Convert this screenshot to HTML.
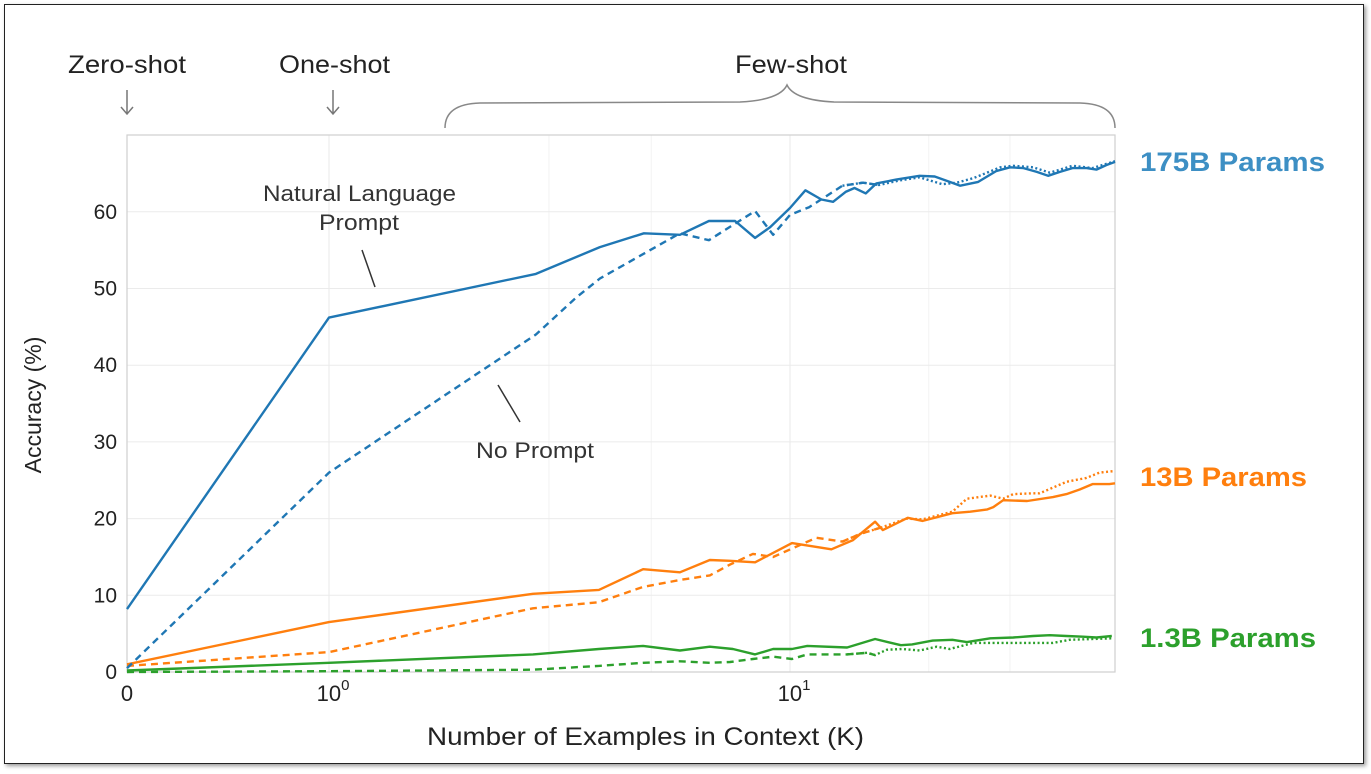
<!DOCTYPE html>
<html><head><meta charset="utf-8"><style>
body{margin:0;background:#fff;width:1371px;height:774px;overflow:hidden;font-family:"Liberation Sans",sans-serif}
#frame{position:absolute;left:4px;top:4px;width:1358px;height:758px;border:1.5px solid #222;box-shadow:2px 2px 4px rgba(0,0,0,.4)}
</style></head><body>
<div id="frame"></div>
<svg id="c" width="1371" height="774" style="position:absolute;left:0;top:0"></svg>
<script>
const blueSolidK=[0,1,2.81,3.87,4.82,5.77,6.67,7.60,8.40,9.06,10.0,10.8,11.7,12.4,13.2,13.8,14.6,15.4,17.0,19.1,20.6,22.2,23.4,25.6,28.0,30.0,32.1,34.3,36.3,38.5,41.0,44.0,46.2,48.6,50.7];
const blueSolidV=[8.2,46.2,51.9,55.4,57.2,57.0,58.8,58.8,56.6,58,60.5,62.8,61.6,61.3,62.6,63.1,62.4,63.7,64.2,64.7,64.6,63.9,63.4,63.9,65.3,65.8,65.7,65.2,64.7,65.2,65.7,65.7,65.5,66.1,66.5];
const blueNoK=[0,1,2.81,3.45,3.87,5.77,6.67,8.40,9.19,10.0,11.0,13.0,14.4,15.6,17.3,19.1,21.4,23.0,25.0,28.6,30.5,33.7,36.6,41.0,45.3,50.7];
const blueNoV=[0.5,26,44,48.9,51.3,57.2,56.3,60.1,57,59.6,60.6,63.4,63.8,63.5,64.1,64.5,63.6,63.8,64.4,65.8,66.0,65.8,65.1,66.0,65.7,66.6];
const orangeSolidK=[0,1,2.77,3.85,4.80,5.77,6.70,7.41,8.40,10.1,12.3,13.7,15.3,15.9,18.0,19.4,22.5,24.6,26.8,27.6,29.0,32.7,37.2,39.8,42.5,45.3,49.3,50.7];
const orangeSolidV=[1.0,6.5,10.2,10.7,13.4,13.0,14.6,14.5,14.3,16.8,16.0,17.2,19.6,18.5,20.1,19.7,20.7,20.9,21.2,21.5,22.4,22.3,22.8,23.2,23.8,24.5,24.5,24.6];
const orangeNoK=[0,1,2.77,3.85,4.80,5.77,6.70,7.41,8.31,9.19,11.4,13.0,14.2,15.9,17.9,19.4,22.5,24.2,27.2,29.0,30.5,33.7,34.8,39.8,44.0,46.9,50.7];
const orangeNoV=[0.8,2.6,8.3,9.1,11.1,12.0,12.6,14,15.4,15,17.5,17,18,18.9,20,19.9,20.9,22.6,23,22.6,23.2,23.3,23.3,24.8,25.3,26,26.2];
const greenSolidK=[0,1,2.77,3.85,4.80,5.77,6.70,7.52,8.40,9.19,10.1,10.9,13.3,14.0,15.3,17.4,18.4,20.4,22.5,24.2,27.2,30.5,33.7,36.6,39.8,43.2,46.2,49.9];
const greenSolidV=[0.2,1.2,2.3,3.0,3.4,2.8,3.3,3.0,2.3,3.0,3.0,3.4,3.2,3.6,4.3,3.5,3.6,4.1,4.2,3.9,4.4,4.5,4.7,4.8,4.7,4.6,4.5,4.7];
const greenNoK=[0,1,2.77,3.85,4.80,5.77,6.70,7.41,8.31,9.19,10.1,10.9,13.3,14.7,15.3,16.2,17.5,19.1,20.8,22.2,25.0,29.0,37.2,40.4,50.1];
const greenNoV=[0,0.1,0.3,0.8,1.2,1.4,1.2,1.3,1.7,2.0,1.7,2.3,2.3,2.5,2.2,2.9,3.0,2.8,3.3,3.0,3.8,3.8,3.8,4.2,4.4];
const yTicks=[0,10,20,30,40,50,60];
const dottedFrom=16;

const NS="http://www.w3.org/2000/svg",svg=document.getElementById('c');
const X0=127,X1=329,DEC=461,XR=1115,YB=672,YT=135,PPU=7.67;
function xs(k){return k<=1?X0+(X1-X0)*k:X1+DEC*Math.log10(k);}
function ys(v){return YB-v*PPU;}
function mk(t,a,p){const e=document.createElementNS(NS,t);for(const k in a)e.setAttribute(k,a[k]);(p||svg).appendChild(e);return e;}
[3,5,20,30].forEach(k=>{const g=mk('line',{x1:xs(k),x2:xs(k),y1:YT,y2:YB,stroke:'#f2f2f2','stroke-width':1});

});
[1,10].forEach(k=>{const g=mk('line',{x1:xs(k),x2:xs(k),y1:YT,y2:YB,stroke:'#e8e8e8','stroke-width':1});

});
yTicks.forEach(v=>{const g=mk('line',{x1:X0,x2:XR,y1:ys(v),y2:ys(v),stroke:'#ebebeb','stroke-width':1});


const t=mk('text',{x:X0-10,y:ys(v)+7,'text-anchor':'end','font-size':21,fill:'#222'});t.textContent=v;

});
const box=mk('rect',{x:X0,y:YT,width:XR-X0,height:YB-YT,fill:'none',stroke:'#cfcfcf','stroke-width':1.2});


function xt(x,html,name){const t=mk('text',{x:x,y:701,'text-anchor':'middle','font-size':22,fill:'#222'});t.innerHTML=html;

}
xt(xs(0),'0','x-tick-0');
xt(xs(1)+4,'10<tspan font-size="15" dy="-11">0</tspan>','x-tick-10e0');
xt(xs(10)+4,'10<tspan font-size="15" dy="-11">1</tspan>','x-tick-10e1');
function series(K,V,color,dash,name,split){
  let pts1=[],pts2=[];
  K.forEach((k,i)=>{const p=xs(k).toFixed(1)+','+ys(V[i]).toFixed(1);
    if(!split||k<=split)pts1.push(p);
    if(split&&k>=split-3)pts2.push(p);});
  const l=mk('polyline',{points:pts1.join(' '),fill:'none',stroke:color,'stroke-width':2.4,'stroke-dasharray':dash||'none','stroke-linejoin':'round'});
  
  
  if(split){const l2=mk('polyline',{points:pts2.join(' '),fill:'none',stroke:color,'stroke-width':2.4,'stroke-dasharray':'2 2.5'});
  
  }
}
series(greenNoK,greenNoV,'#2ca02c','7 5','line-1-3b-no-prompt',dottedFrom);
series(greenSolidK,greenSolidV,'#2ca02c',null,'line-1-3b-natural-language');
series(orangeNoK,orangeNoV,'#ff7f0e','7 5','line-13b-no-prompt',dottedFrom);
series(orangeSolidK,orangeSolidV,'#ff7f0e',null,'line-13b-natural-language');
series(blueNoK,blueNoV,'#1f77b4','7 5','line-175b-no-prompt',dottedFrom);
series(blueSolidK,blueSolidV,'#1f77b4',null,'line-175b-natural-language');
</script>
<svg width="1371" height="774" style="position:absolute;left:0;top:0">
<g font-family="Liberation Sans, sans-serif" fill="#222">
<text x="68" y="73" font-size="25" textLength="118" lengthAdjust="spacingAndGlyphs">Zero-shot</text>
<text x="279" y="73" font-size="25" textLength="111" lengthAdjust="spacingAndGlyphs">One-shot</text>
<text x="735" y="73" font-size="25" textLength="112" lengthAdjust="spacingAndGlyphs">Few-shot</text>
<text x="263" y="201" font-size="22" fill="#333" textLength="193" lengthAdjust="spacingAndGlyphs">Natural Language</text>
<text x="319" y="230" font-size="22" fill="#333" textLength="80" lengthAdjust="spacingAndGlyphs">Prompt</text>
<text x="476" y="458" font-size="22" fill="#333" textLength="118" lengthAdjust="spacingAndGlyphs">No Prompt</text>
<text x="427" y="745" font-size="25" textLength="437" lengthAdjust="spacingAndGlyphs">Number of Examples in Context  (K)</text>
<text transform="translate(41,405) rotate(-90)" font-size="23" text-anchor="middle">Accuracy (%)</text>
<text x="1140" y="171" font-size="27" font-weight="bold" fill="#3d8fc4" textLength="185" lengthAdjust="spacingAndGlyphs">175B Params</text>
<text x="1140" y="486" font-size="27" font-weight="bold" fill="#ff7f0e" textLength="167" lengthAdjust="spacingAndGlyphs">13B Params</text>
<text x="1140" y="647" font-size="27" font-weight="bold" fill="#2ca02c" textLength="176" lengthAdjust="spacingAndGlyphs">1.3B Params</text>
</g>
<g stroke="#777" stroke-width="1.5" fill="none">
<path d="M127 90 V114 M121 107 L127 114 L133 107"/>
<path d="M333 90 V114 M327 107 L333 114 L339 107"/>
<path d="M445 128 Q445 104 480 103 L740 102 Q780 100 787 85 Q794 100 834 102 L1080 103 Q1115 104 1115 128" stroke="#888"/>
<line x1="362" y1="250" x2="375" y2="287" stroke="#333"/>
<line x1="498" y1="385" x2="520" y2="422" stroke="#333"/>
</g>
</svg>
</body></html>
